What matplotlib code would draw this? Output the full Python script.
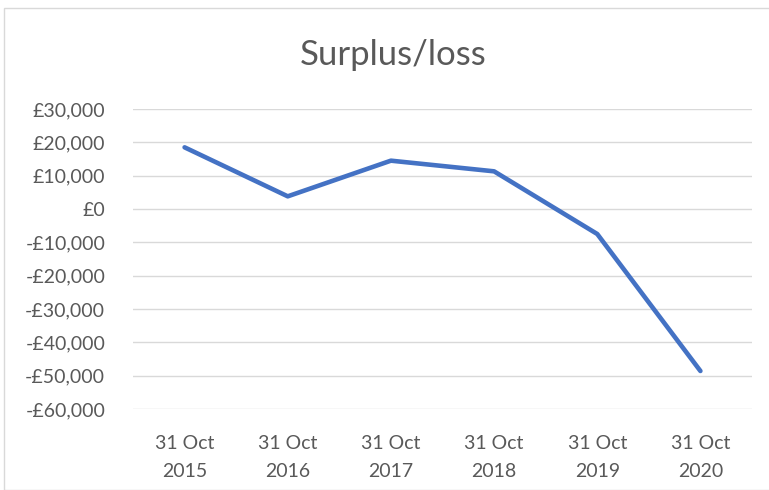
import matplotlib
matplotlib.use('Agg')
import matplotlib.pyplot as plt
from matplotlib.patches import Rectangle

dates = ['31 Oct\n2015', '31 Oct\n2016', '31 Oct\n2017', '31 Oct\n2018', '31 Oct\n2019', '31 Oct\n2020']
surplus = [18500, 3800, 14500, 11300, -7500, -48600]
y_ticks = [30000, 20000, 10000, 0, -10000, -20000, -30000, -40000, -50000, -60000]


def money(v):
    if v < 0:
        return '-£{:,}'.format(-v)
    return '£{:,}'.format(v)


plt.rcParams['font.family'] = ['Lato', 'DejaVu Sans']
text_col = '#595959'

fig = plt.figure(figsize=(7.69, 4.90), dpi=100)
fig.patches.append(Rectangle((4 / 769, 0), 1, 1 - 8 / 490, transform=fig.transFigure,
                             fill=False, edgecolor='#d9d9d9', linewidth=1))

ax = fig.add_axes([133 / 769, 1 - 409 / 490, (752 - 133) / 769, 300 / 490])
x = list(range(len(dates)))
ax.plot(x, surplus, color='#4472C4', linewidth=3.3, solid_capstyle='round', zorder=3)

ax.set_xlim(-0.5, len(dates) - 0.5)
ax.set_ylim(-60000, 30000)
ax.set_yticks(y_ticks)
ax.set_yticklabels([money(v) for v in y_ticks])
ax.set_xticks(x)
ax.set_xticklabels(dates, linespacing=1.75)
ax.grid(axis='y', color='#d9d9d9', linewidth=1)
ax.set_axisbelow(True)
for s in ax.spines.values():
    s.set_visible(False)
ax.tick_params(length=0, labelsize=14, labelcolor=text_col)
ax.tick_params(axis='y', pad=20)
ax.tick_params(axis='x', pad=19)

fig.text(393 / 769, 1 - 55 / 490, 'Surplus/loss', ha='center', va='center',
         fontsize=25, color=text_col)

fig.savefig('out.png', dpi=100)
